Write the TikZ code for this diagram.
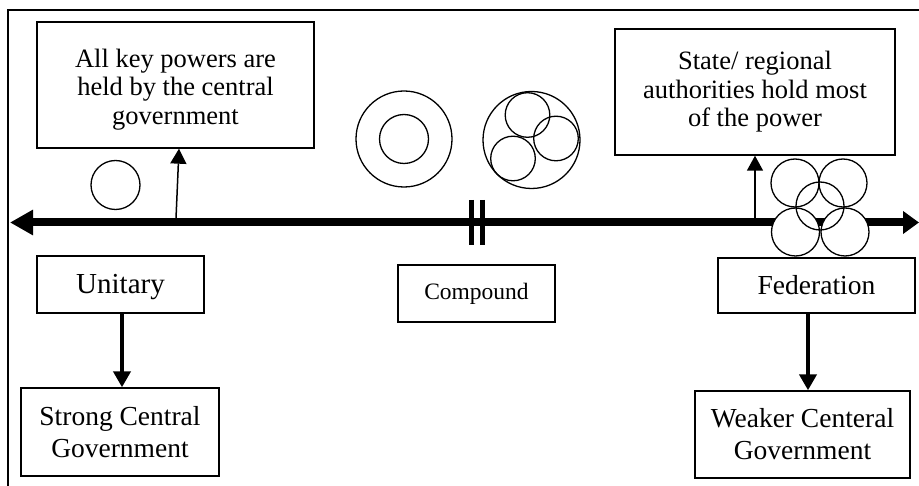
\documentclass[tikz,border=0pt]{standalone}
\usepackage{fontspec}
\setmainfont{Liberation Serif}
\usetikzlibrary{arrows.meta}
\newcommand\tripletext{\fontsize{26.5pt}{28.5pt}\selectfont}
\newcommand\duotext{\fontsize{27.5pt}{32pt}\selectfont}
\newcommand\unitext{\fontsize{29pt}{33pt}\selectfont}
\newcommand\comptext{\fontsize{23.5pt}{27pt}\selectfont}
\begin{document}
\begin{tikzpicture}[x=1pt,y=-1pt,
  box/.style={draw, line width=1.4pt, inner sep=0pt, align=center},
  ring/.style={circle, draw, line width=1.3pt, inner sep=0pt},
  thin arrow/.style={line width=1.5pt, -{Triangle[length=15pt,width=16pt]}},
  thick arrow/.style={line width=4pt, -{Triangle[length=16pt,width=17pt]}},
]
\useasboundingbox (0,0) rectangle (919,486);
% outer frame (left and top edges)
\draw[line width=1.5pt] (8,486) |- (919,10);

% text boxes
\node[box, minimum width=277pt, minimum height=126pt, font=\tripletext] (kbox) at (175.5,85)
  {\rule{0pt}{27pt}All key powers are\\held by the central\\government};
\node[box, minimum width=280pt, minimum height=126pt, font=\tripletext] (sbox) at (755,92)
  {State/ regional\\authorities hold most\\of the power};
\node[box, minimum width=167pt, minimum height=57pt, font=\unitext] (ubox) at (120.5,284.5) {\rule{0pt}{24pt}Unitary};
\node[box, minimum width=157pt, minimum height=57pt, font=\comptext] (cbox) at (476.5,293.5) {Compound};
\node[box, minimum width=197pt, minimum height=55pt, font=\duotext] (fbox) at (816.5,285.5) {Federation};
\node[box, minimum width=198pt, minimum height=88pt, font=\duotext] (gbox) at (120,432)
  {Strong Central\\Government};
\node[box, minimum width=215pt, minimum height=87pt, font=\duotext] (wbox) at (802.5,434.5)
  {Weaker Centeral\\Government};

% the axis
\coordinate (west) at (10,222.5);
\coordinate (east) at (919,222.5);
\draw[line width=8pt, {Triangle[length=23pt,width=24pt]}-{Triangle[length=16pt,width=22pt]}] (west) -- (east);
% break mark
\draw[line width=5pt] (471,200) -- (471,245) (482,200) -- (482,245);

% arrows from the axis to the description boxes
\coordinate (kfoot) at (176,218.5);
\draw[thin arrow] (kfoot) -- ([xshift=3.5pt]kbox.south);
\coordinate (sfoot) at (755,218.5);
\draw[thin arrow] (sfoot) -- (sfoot |- sbox.south);

% arrows to the consequences
\draw[thick arrow] ([xshift=1.5pt]ubox.south) -- ([xshift=1.5pt]ubox.south |- gbox.north);
\draw[thick arrow] ([xshift=-8.5pt]fbox.south) -- ([xshift=-8.5pt]fbox.south |- wbox.north);

% unitary symbol
\node[ring, minimum size=49pt] (single) at (115.5,185) {};

% compound symbols
\node[ring, minimum size=96pt] (outerA) at (404,139) {};
\node[ring, minimum size=49pt] (innerA) at (404,139) {};
\node[ring, minimum size=97pt] (outerB) at (531.5,140) {};
\node[ring, minimum size=44.6pt] (partB1) at (527.5,115) {};
\node[ring, minimum size=44.6pt] (partB2) at (556,138.5) {};
\node[ring, minimum size=44.6pt] (partB3) at (513,158.5) {};

% federation symbol
\node[ring, fill=white, minimum size=48pt] (fedD) at (795.5,232) {};
\node[ring, fill=white, minimum size=48pt] (fedE) at (845,232) {};
\node[ring, minimum size=48pt] (fedA) at (795,183) {};
\node[ring, minimum size=48pt] (fedB) at (843,183) {};
\node[ring, minimum size=48pt] (fedC) at (820,206) {};
\end{tikzpicture}
\end{document}
